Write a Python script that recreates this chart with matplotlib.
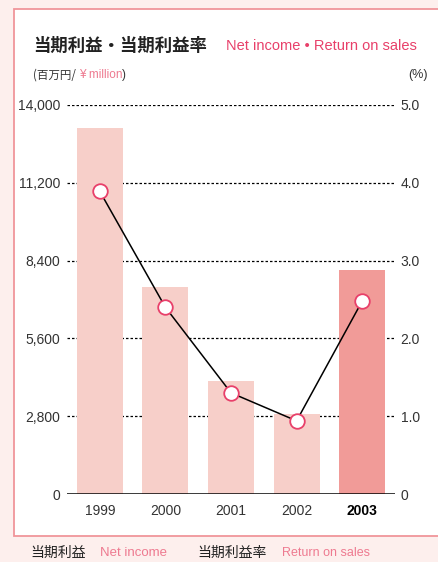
import matplotlib.pyplot as plt
from matplotlib.patches import Rectangle
from matplotlib.ticker import FuncFormatter

# Data
years = ['1999', '2000', '2001', '2002', '2003']
net_income = [13170, 7450, 4070, 2880, 8060]          # 百万円
return_on_sales = [3.89, 2.40, 1.30, 0.94, 2.48]       # %
left_ticks = [0, 2800, 5600, 8400, 11200, 14000]
right_ticks = [0, 1.0, 2.0, 3.0, 4.0, 5.0]

plt.rcParams['font.family'] = ['Liberation Sans', 'Noto Sans CJK JP', 'DejaVu Sans']
JP = ['Noto Sans CJK JP']

BG = '#fdefed'
BAR = '#f7cfc9'
BAR_HI = '#f19b98'
PINK = '#e8406a'
PINK_LT = '#ee7a90'
TXT = '#333333'

fig = plt.figure(figsize=(4.38, 5.62), dpi=100)
fig.patch.set_facecolor(BG)

# white panel with pink border (runs off the right edge)
panel = Rectangle((14 / 438, 1 - 536 / 562), 1.0, (536 - 9) / 562,
                  transform=fig.transFigure, facecolor='white',
                  edgecolor='#f0959a', linewidth=1.3, zorder=-5)
fig.patches.append(panel)

ax = fig.add_axes([67 / 438, 1 - 494 / 562, 328 / 438, 389 / 562])
ax.set_facecolor('none')
x = list(range(len(years)))
colors = [BAR] * 4 + [BAR_HI]
ax.bar(x, net_income, width=0.7, color=colors, zorder=2)
ax.set_xlim(-0.5, 4.5)
ax.set_ylim(0, 14000)
ax.set_yticks(left_ticks)
ax.yaxis.set_major_formatter(FuncFormatter(lambda v, p: f'{int(v):,}'))
for t in left_ticks[1:]:
    ax.axhline(t, color='black', lw=0.9, ls=(0, (2.0, 1.6)), zorder=1)
ax.axhline(0, color='black', lw=1.8, zorder=3)
for s in ax.spines.values():
    s.set_visible(False)
ax.tick_params(axis='y', length=0, pad=5, labelsize=10, labelcolor=TXT)
ax.tick_params(axis='x', length=0, pad=7, labelsize=10, labelcolor=TXT)
ax.set_xticks(x)
ax.set_xticklabels(years)
ax.get_xticklabels()[-1].set_fontweight('bold')
ax.get_xticklabels()[-1].set_color('black')

ax2 = ax.twinx()
ax2.set_ylim(0, 5)
ax2.set_yticks(right_ticks)
ax2.set_yticklabels(['0'] + [f'{v:.1f}' for v in right_ticks[1:]])
for s in ax2.spines.values():
    s.set_visible(False)
ax2.tick_params(axis='y', length=0, pad=4, labelsize=10, labelcolor=TXT)
ax2.plot(x, return_on_sales, color='black', lw=1.1, marker='o', markersize=10.5,
         markerfacecolor='white', markeredgecolor=PINK, markeredgewidth=1.3, zorder=5)

# titles
fig.text(33 / 438, 1 - 46 / 562, '当期利益・当期利益率', fontsize=12.5,
         fontweight='bold', color='#222222', va='center', family=JP)
fig.text(226 / 438, 1 - 46 / 562, 'Net income • Return on sales', fontsize=10.5,
         color=PINK, va='center')
fig.text(33 / 438, 1 - 75 / 562, '(百万円/', fontsize=8.3, color=TXT, va='center',
         family=JP)
fig.text(79 / 438, 1 - 75 / 562, '¥ million', fontsize=8.5, color=PINK_LT, va='center')
fig.text(122 / 438, 1 - 75 / 562, ')', fontsize=8.5, color=TXT, va='center')
fig.text(428 / 438, 1 - 75 / 562, '(%)', fontsize=9, color=TXT, va='center', ha='right')

# bottom legend captions
fig.text(30 / 438, 1 - 553 / 562, '当期利益', fontsize=10, color='#222222', va='center',
         family=JP)
fig.text(100 / 438, 1 - 553 / 562, 'Net income', fontsize=9.5, color=PINK_LT, va='center')
fig.text(197 / 438, 1 - 553 / 562, '当期利益率', fontsize=10, color='#222222', va='center',
         family=JP)
fig.text(282 / 438, 1 - 553 / 562, 'Return on sales', fontsize=9, color=PINK_LT, va='center')

plt.savefig('out.png', dpi=100, facecolor=BG)
